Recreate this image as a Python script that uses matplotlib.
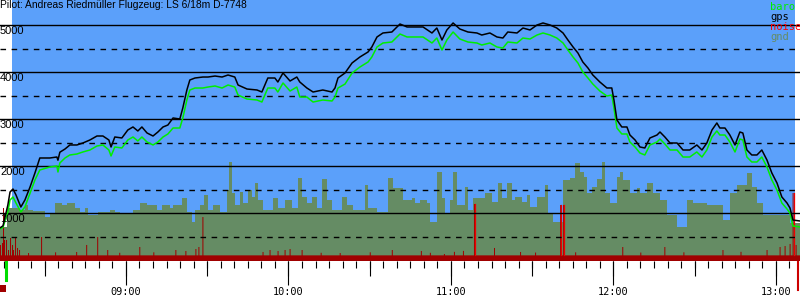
import numpy as np
import matplotlib
matplotlib.use("Agg")
import matplotlib.pyplot as plt
from matplotlib.ticker import MultipleLocator, FuncFormatter
import matplotlib.transforms as mtransforms
from matplotlib.patches import Rectangle

# times are minutes after 08:00, altitudes in metres
title = "Pilot: Andreas Riedmüller Flugzeug: LS 6/18m D-7748"

t_start, t_end = 13.5, 308.9
takeoff_t, landing_t = 17.9, 307.0
start_mark_t, end_mark_t = 15.7, 308.3

gps_t = [13.5, 14.6, 16.4, 17.2, 18.3, 19.4, 21.2, 22.7, 24.6, 26.4, 28.2, 31.9, 34.5, 34.9,
         35.6, 37.5, 39.3, 41.9, 44.1, 46.7, 49.3, 51.5, 53.7, 54.5, 55.9, 58.5, 60.7, 62.6,
         64.4, 65.9, 67.8, 70.0, 71.8, 73.7, 75.5, 77.4, 79.9, 81.0, 82.5, 83.6, 85.5, 88.4,
         90.3, 92.9, 95.5, 97.7, 100.2, 101.4, 104.7, 108.4, 110.2, 112.4, 115.0, 116.1, 118.0,
         120.6, 123.1, 124.2, 126.8, 129.1, 132.7, 136.1, 137.2, 138.3, 140.9, 143.5, 146.4,
         149.4, 150.8, 152.7, 154.9, 158.2, 161.2, 163.8, 166.7, 169.7, 173.0, 174.8, 176.7,
         178.5, 180.8, 183.3, 186.3, 189.6, 191.4, 194.4, 197.0, 199.2, 201.0, 204.4, 206.6,
         209.2, 211.8, 214.0, 216.6, 219.1, 221.4, 223.2, 225.1, 226.9, 228.7, 230.6, 232.4,
         235.0, 237.6, 239.4, 240.2, 241.3, 243.1, 245.0, 246.1, 248.0, 249.8, 251.6, 253.5,
         256.1, 257.2, 259.0, 260.9, 263.5, 265.7, 268.2, 270.8, 272.7, 274.5, 276.4, 278.2,
         279.3, 281.2, 283.0, 284.9, 286.7, 287.8, 289.3, 291.1, 293.0, 294.8, 296.7, 298.5,
         300.4, 302.2, 304.1, 305.2, 306.3, 308.9]

gps_alt = [691, 733, 1177, 1453, 1517, 1390, 1134, 1283, 1560, 1858, 2177, 2177, 2198, 2130,
           2300, 2368, 2454, 2454, 2496, 2560, 2645, 2645, 2560, 2411, 2624, 2603, 2773, 2837,
           2752, 2837, 2709, 2645, 2730, 2837, 2879, 3028, 3007, 3241, 3624, 3837, 3879, 3900,
           3900, 3921, 3900, 3943, 3900, 3730, 3645, 3624, 3581, 3879, 3879, 3794, 3986,
           3815, 3900, 3794, 3667, 3581, 3624, 3581, 3667, 3879, 3986, 4199, 4326,
           4433, 4539, 4752, 4837, 4858, 5028, 4965, 4965, 4965, 4837, 4943, 4688,
           4901, 5050, 4922, 4858, 4837, 4794, 4837, 4752, 4730, 4858, 4837, 4943,
           4901, 5007, 5050, 5007, 4943, 4837, 4688, 4539, 4411, 4220, 4092, 3943,
           3794, 3667, 3667, 3411, 2986, 2837, 2837, 2666, 2560, 2411, 2390, 2603,
           2666, 2730, 2624, 2496, 2496, 2347, 2347, 2454, 2347, 2496, 2773, 2922,
           2815, 2815, 2666, 2454, 2730, 2709, 2347, 2241, 2241, 2347, 2134, 1858,
           1645, 1347, 1219, 1113, 857, 836]

baro_alt = [670, 700, 1028, 1283, 1347, 1219, 1028, 1134, 1432, 1709, 1922, 1985, 2007, 1879,
            2071, 2177, 2241, 2262, 2305, 2347, 2432, 2454, 2347, 2220, 2411, 2390, 2560, 2624,
            2539, 2624, 2517, 2454, 2517, 2624, 2688, 2815, 2815, 3028, 3411, 3624, 3666, 3666,
            3687, 3709, 3666, 3730, 3687, 3517, 3432, 3411, 3368, 3666, 3666, 3581, 3773,
            3602, 3687, 3475, 3475, 3368, 3411, 3390, 3475, 3666, 3751, 3985, 4113,
            4220, 4326, 4539, 4624, 4645, 4815, 4752, 4752, 4752, 4624, 4730, 4475,
            4688, 4858, 4709, 4645, 4624, 4581, 4624, 4539, 4517, 4645, 4624, 4730,
            4709, 4794, 4837, 4794, 4730, 4624, 4475, 4326, 4199, 4007, 3879, 3751,
            3602, 3496, 3517, 3241, 2815, 2688, 2688, 2517, 2411, 2283, 2241, 2454,
            2517, 2581, 2475, 2347, 2347, 2198, 2198, 2305, 2198, 2347, 2624, 2752,
            2666, 2666, 2517, 2305, 2581, 2560, 2198, 2092, 2092, 2198, 1985, 1709,
            1496, 1219, 1092, 1006, 730, 709]

# ground elevation, stepwise
gnd_t = [13.5, 16.1, 20.9, 22.7, 23.8, 25.7, 30.1, 31.9, 33.8, 36.4, 38.2, 41.2, 43.0, 44.9,
         46.0, 49.7, 54.1, 56.0, 57.8, 62.6, 65.2, 67.8, 71.4, 73.3, 76.2, 77.4, 80.7, 82.5,
         84.4, 85.5, 87.3, 88.8, 90.3, 92.1, 94.7, 97.3, 98.0, 99.1, 100.2, 102.1, 103.2,
         105.0, 106.5, 107.6, 108.7, 110.6, 114.3, 116.1, 118.7, 121.3, 123.5, 125.0, 126.8,
         128.7, 130.5, 132.4, 134.2, 136.1, 139.8, 141.6, 143.8, 148.2, 149.4, 152.7, 156.7,
         158.6, 161.2, 162.3, 165.6, 166.7, 168.6, 171.1, 172.2, 174.8, 176.7, 177.8, 179.6,
         180.7, 182.2, 185.2, 186.3, 188.1, 192.6, 195.1, 197.4, 198.8, 200.7, 202.5, 203.6,
         206.2, 208.1, 209.2, 211.8, 214.7, 215.8, 217.7, 221.4, 224.0, 225.8, 227.6, 229.1,
         230.2, 232.1, 233.9, 235.8, 236.9, 238.7, 241.3, 242.4, 243.5, 246.1, 248.7, 249.8,
         252.4, 254.6, 257.2, 259.8, 263.5, 267.1, 269.4, 274.5, 280.4, 283.0, 285.6, 289.3,
         291.1, 293.0, 295.2, 305.2, 308.9]

gnd_alt = [716, 1106, 1070, 1177, 1070, 1049, 928, 999, 1212, 1177, 1212, 1106, 1035, 1106,
           964, 1035, 1070, 1035, 1014, 1070, 1212, 1177, 1070, 1177, 1106, 1177, 1319, 1035,
           822, 1070, 1177, 1390, 1070, 1177, 1035, 1496, 2099, 1425, 1177, 1461, 1212,
           1496, 1354, 1638, 1283, 1070, 1319, 1106, 1283, 1106, 1745, 1354, 1212,
           1354, 1106, 1730, 1283, 1070, 1354, 1177, 1070, 1602, 1106, 1035, 1745,
           1532, 1532, 1283, 1319, 1212, 1283, 1212, 822, 1886, 1319, 999, 1283,
           1886, 1177, 1567, 1070, 1319, 1425, 1248, 1638, 1319, 1638, 1283, 1354,
           1248, 1390, 1141, 1354, 1602, 999, 822, 1709, 1745, 2063, 1886, 1780,
           1425, 1567, 1720, 2099, 1425, 1212, 1780, 1886, 1709, 1425, 1532, 1425,
           1638, 1425, 1283, 964, 716, 1283, 1212, 1177, 858, 1425, 1602, 1850,
           1567, 1212, 964, 786, 786]

noise_base = 105
noise_spike_t = [13.5, 14.2, 14.6, 15.0, 15.7, 16.4, 17.2, 17.9, 18.3, 19.0, 19.8, 20.5,
                 23.8, 28.6, 34.0, 41.5, 45.2, 49.3, 53.0, 57.4, 64.8, 70.0, 78.1, 81.8,
                 85.5, 86.6, 88.4, 110.6, 113.2, 116.1, 118.7, 120.6, 125.0, 132.0, 139.0,
                 150.0, 158.2, 169.0, 172.3, 177.4, 181.0, 184.5, 188.5, 195.9, 205.5,
                 211.0, 220.3, 221.4, 226.0, 243.1, 250.0, 258.7, 266.0, 280.1, 287.0,
                 296.7, 301.5, 303.3, 305.2, 306.3, 307.4]
noise_spike_v = [326, 368, 1113, 432, 432, 219, 475, 326, 219, 496, 262, 219,
                 155, 496, 170, 177, 326, 496, 219, 160, 283, 170, 219, 198,
                 240, 283, 921, 177, 219, 198, 219, 240, 219, 160, 155,
                 170, 219, 198, 160, 134, 180, 200, 1198, 262, 177,
                 165, 1177, 1177, 170, 283, 165, 283, 170, 219, 180,
                 219, 283, 304, 347, 1432, 326]

sky = "#5ba0fa"
gnd_col = "#658c64"
noise_col = "#a00000"
baro_col = "#00ee00"

fig = plt.figure(figsize=(8, 3), dpi=100)
ax = fig.add_axes([0, 0.13, 1, 0.87])
ax.set_facecolor("white")
ax.set_xlim(t_start, t_end)
ax.set_ylim(-15, 5539)

ax.axvspan(takeoff_t, landing_t, color=sky, zorder=0, lw=0)
ax.fill_between(gnd_t, -20, gnd_alt, step="post", color=gnd_col, lw=0, zorder=1)

# noise as a step series on a fine time grid
grid = np.arange(t_start, t_end + 0.37, 0.37)
noise = np.full(len(grid), float(noise_base))
for t, v in zip(noise_spike_t, noise_spike_v):
    i = int(np.argmin(np.abs(grid - t)))
    noise[i] = v
ax.fill_between(grid, -20, noise, step="post", color=noise_col, lw=0, zorder=2)

# the tallest noise peaks show up brighter
big = [(t, v) for t, v in zip(noise_spike_t, noise_spike_v) if v > 1100 and t > 100]
for t, v in big:
    ax.plot([t + 0.35, t + 0.35], [noise_base, v], color="#ee0000", lw=0.9, zorder=2.5)

for v in range(500, 5001, 500):
    if v % 1000 == 0:
        ax.axhline(v, color="black", lw=1.0, zorder=3)
    else:
        ax.axhline(v, color="black", lw=1.0, ls=(0, (4, 4)), zorder=3)

ax.plot(gps_t, baro_alt, color=baro_col, lw=1.1, zorder=4)
ax.plot(gps_t, gps_alt, color="black", lw=1.1, zorder=5)

trans = mtransforms.blended_transform_factory(ax.transAxes, ax.transData)
for v in range(1000, 5001, 1000):
    ax.annotate(str(v), xy=(0, v), xycoords=trans, xytext=(0, -1), textcoords="offset pixels",
                ha="left", va="top", fontsize=8, family="Liberation Sans", zorder=6)

ax.text(0, 1, title, transform=ax.transAxes, ha="left", va="top", fontsize=7.4,
        family="Liberation Sans", zorder=6)

legend = [("baro", baro_col), ("gps", "black"), ("noise", "#ff0000"), ("gnd", gnd_col)]
for i, (name, c) in enumerate(legend):
    fig.text(770 / 800, 1 - (2 + 10 * i) / 300, name, color=c, ha="left", va="top",
             fontsize=7.5, family="DejaVu Sans Mono")

for s in ax.spines.values():
    s.set_visible(False)
ax.set_yticks([])

ax.xaxis.set_major_locator(MultipleLocator(60))
ax.xaxis.set_minor_locator(MultipleLocator(5))
ax.xaxis.set_major_formatter(FuncFormatter(lambda x, p: "%02d:%02d" % (8 + int(x) // 60, int(x) % 60)))
ax.tick_params(axis="x", which="major", length=17, width=0.8, pad=2, labelsize=7.4)
ax.tick_params(axis="x", which="minor", length=5, width=0.8)
for lab in ax.get_xticklabels():
    lab.set_family("DejaVu Sans Mono")

ax2 = ax.twiny()
ax2.set_xlim(ax.get_xlim())
ax2.xaxis.set_ticks_position("bottom")
ax2.xaxis.set_major_locator(MultipleLocator(30))
ax2.tick_params(axis="x", length=11, width=0.8, labelbottom=False, labeltop=False)
for s in ax2.spines.values():
    s.set_visible(False)

# start / end markers below the axis
btrans = mtransforms.blended_transform_factory(ax.transData, ax.transAxes)
ax.plot([start_mark_t, start_mark_t], [-0.002, -0.072], color="#00dd00", lw=2.2,
        transform=btrans, clip_on=False)
ax.plot([end_mark_t, end_mark_t], [-0.002, -0.11], color="#cc0000", lw=1.5,
        transform=btrans, clip_on=False)
fig.patches.append(Rectangle((0, 8 / 300), 6 / 800, 7 / 300, transform=fig.transFigure,
                             color="#a00000", lw=0))

fig.savefig("out.png", dpi=100)
